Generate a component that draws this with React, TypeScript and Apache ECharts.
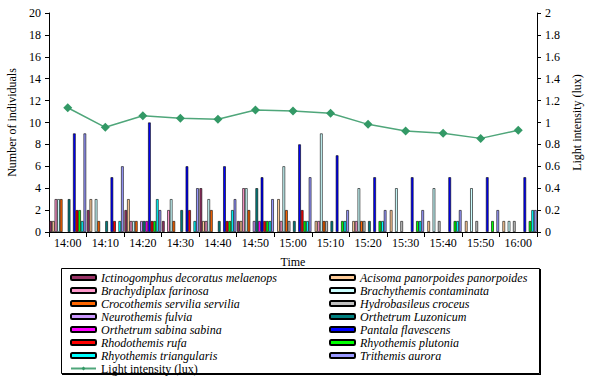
import React, { useEffect, useRef } from "react";
import * as echarts from "echarts";

const times = ["14:00", "14:10", "14:20", "14:30", "14:40", "14:50", "15:00", "15:10", "15:20", "15:30", "15:40", "15:50", "16:00"];

const ictinogomphus = [1, 2, 2, 1, 4, 1, 0, 0, 0, 0, 0, 0, 0];
const acisoma = [1, 3, 3, 0, 1, 1, 3, 1, 1, 2, 1, 1, 1];
const brachydiplax = [3, 0, 1, 2, 1, 4, 1, 1, 1, 0, 0, 0, 0];
const brachythemis = [3, 3, 1, 3, 3, 4, 6, 9, 4, 4, 4, 4, 1];
const crocothemis = [3, 1, 1, 1, 2, 2, 2, 1, 1, 0, 0, 0, 0];
const hydrobasileus = [0, 0, 0, 0, 0, 0, 1, 1, 1, 1, 1, 1, 1];
const neurothemis = [0, 0, 1, 0, 0, 1, 0, 0, 0, 0, 0, 0, 0];
const orthetrumLuzonicum = [3, 1, 1, 2, 1, 4, 1, 1, 1, 0, 0, 0, 0];
const orthetrumSabina = [0, 0, 1, 0, 0, 1, 0, 0, 0, 0, 0, 0, 0];
const pantala = [9, 5, 10, 6, 6, 5, 8, 7, 5, 5, 5, 5, 5];
const rhodothemis = [2, 1, 1, 2, 1, 1, 2, 0, 0, 0, 0, 0, 0];
const rhyothemisPlutonia = [2, 0, 1, 0, 1, 1, 1, 1, 1, 1, 1, 1, 1];
const rhyothemisTriangularis = [1, 1, 3, 1, 2, 1, 1, 1, 1, 1, 1, 0, 2];
const trithemisAurora = [9, 6, 2, 4, 3, 3, 5, 2, 2, 2, 2, 2, 2];

const lightIntensity = [1.135, 0.956, 1.062, 1.038, 1.029, 1.114, 1.105, 1.084, 0.983, 0.922, 0.901, 0.855, 0.929];

const leftTicks = [0, 2, 4, 6, 8, 10, 12, 14, 16, 18, 20];
const rightTicks = [0, 0.2, 0.4, 0.6, 0.8, 1, 1.2, 1.4, 1.6, 1.8, 2];

const species = [
  { name: "Ictinogomphus decoratus melaenops", data: ictinogomphus, color: "#993366" },
  { name: "Acisoma panorpoides panorpoides", data: acisoma, color: "#FFCC99" },
  { name: "Brachydiplax farinosa", data: brachydiplax, color: "#FF99CC" },
  { name: "Brachythemis contaminata", data: brachythemis, color: "#CCFFFF" },
  { name: "Crocothemis servilia servilia", data: crocothemis, color: "#FF6600" },
  { name: "Hydrobasileus croceus", data: hydrobasileus, color: "#C0C0C0" },
  { name: "Neurothemis fulvia", data: neurothemis, color: "#CC99FF" },
  { name: "Orthetrum Luzonicum", data: orthetrumLuzonicum, color: "#008080" },
  { name: "Orthetrum sabina sabina", data: orthetrumSabina, color: "#FF00FF" },
  { name: "Pantala flavescens", data: pantala, color: "#0000FF" },
  { name: "Rhodothemis rufa", data: rhodothemis, color: "#FF0000" },
  { name: "Rhyothemis plutonia", data: rhyothemisPlutonia, color: "#00FF00" },
  { name: "Rhyothemis triangularis", data: rhyothemisTriangularis, color: "#00FFFF" },
  { name: "Trithemis aurora", data: trithemisAurora, color: "#9999FF" },
];

const lineName = "Light intensity (lux)";
const FONT = "'Liberation Serif', 'Times New Roman', serif";

export default function App() {
  const ref = useRef<HTMLDivElement>(null);
  useEffect(() => {
    if (!ref.current) return;
    const chart = echarts.init(ref.current, null, { renderer: "svg" });
    const barSeries = species.map((s) => ({
      name: s.name,
      type: "bar",
      data: s.data.map((v) => (v === 0 ? "-" : v)),
      itemStyle: { color: s.color, borderColor: "#000", borderWidth: 0.6 },
      barGap: "0%",
      barCategoryGap: "2%",
    }));
    const leftNames = species.filter((_, i) => i % 2 === 0).map((s) => ({ name: s.name, textStyle: { fontStyle: "italic" } }));
    const rightNames = species.filter((_, i) => i % 2 === 1).map((s) => ({ name: s.name, textStyle: { fontStyle: "italic" } }));
    const legendCommon = {
      orient: "vertical",
      itemWidth: 25,
      itemHeight: 5,
      itemGap: 0,
      padding: 0,
      textStyle: { fontFamily: FONT, fontSize: 12, color: "#000", lineHeight: 13 },
      selectedMode: false,
    };
    chart.setOption({
      animation: false,
      backgroundColor: "#fff",
      textStyle: { fontFamily: FONT },
      grid: { left: 49, right: 63, top: 13, bottom: 160, outerBoundsMode: "none" },
      legend: [
        { ...legendCommon, left: 70, top: 271, data: [...leftNames, { name: lineName, textStyle: { fontStyle: "normal" } }] },
        { ...legendCommon, left: 329, top: 271, data: rightNames },
      ],
      graphic: [
        { type: "rect", shape: { x: 61.5, y: 268.5, width: 478, height: 105 }, style: { fill: "none", stroke: "#000", lineWidth: 1 } },
        { type: "line", shape: { x1: 62, y1: 374.5, x2: 540.5, y2: 374.5 }, style: { stroke: "#000", lineWidth: 1 } },
        { type: "line", shape: { x1: 540.5, y1: 269, x2: 540.5, y2: 375 }, style: { stroke: "#000", lineWidth: 1 } },
      ],
      xAxis: {
        type: "category",
        data: times,
        name: "Time",
        nameLocation: "middle",
        nameGap: 24,
        nameTextStyle: { fontFamily: FONT, fontSize: 12, color: "#000" },
        axisLine: { lineStyle: { color: "#000", width: 1 } },
        axisTick: { show: true, length: 5, lineStyle: { color: "#000" } },
        axisLabel: { fontFamily: FONT, fontSize: 12, color: "#000", margin: 5 },
        splitLine: { show: false },
      },
      yAxis: [
        {
          type: "value",
          min: leftTicks[0],
          max: leftTicks[leftTicks.length - 1],
          interval: 2,
          name: "Number of individuals",
          nameLocation: "middle",
          nameRotate: 90,
          nameGap: 31,
          nameTextStyle: { fontFamily: FONT, fontSize: 12, color: "#000" },
          axisLine: { show: true, lineStyle: { color: "#000" } },
          axisTick: { show: true, length: 4, lineStyle: { color: "#000" } },
          axisLabel: { fontFamily: FONT, fontSize: 12, color: "#000", margin: 8, formatter: (v: number) => String(v) },
          splitLine: { show: false },
        },
        {
          type: "value",
          position: "right",
          min: rightTicks[0],
          max: rightTicks[rightTicks.length - 1],
          interval: 0.2,
          name: lineName,
          nameLocation: "middle",
          nameRotate: 90,
          nameGap: 31,
          nameTextStyle: { fontFamily: FONT, fontSize: 12, color: "#000" },
          axisLine: { show: true, lineStyle: { color: "#000" } },
          axisTick: { show: true, length: 4, lineStyle: { color: "#000" } },
          axisLabel: {
            fontFamily: FONT,
            fontSize: 12,
            color: "#000",
            margin: 8,
            formatter: (v: number) => String(Math.round(v * 10) / 10),
          },
          splitLine: { show: false },
        },
      ],
      series: [
        ...barSeries,
        {
          name: lineName,
          type: "line",
          yAxisIndex: 1,
          data: lightIntensity,
          symbol: "diamond",
          symbolSize: 9,
          itemStyle: { color: "#339966" },
          lineStyle: { color: "#4FA67A", width: 1.5 },
          z: 5,
        },
      ],
    });
    return () => chart.dispose();
  }, []);
  return <div ref={ref} style={{ position: "fixed", left: 0, top: 0, width: 600, height: 392 }} />;
}
